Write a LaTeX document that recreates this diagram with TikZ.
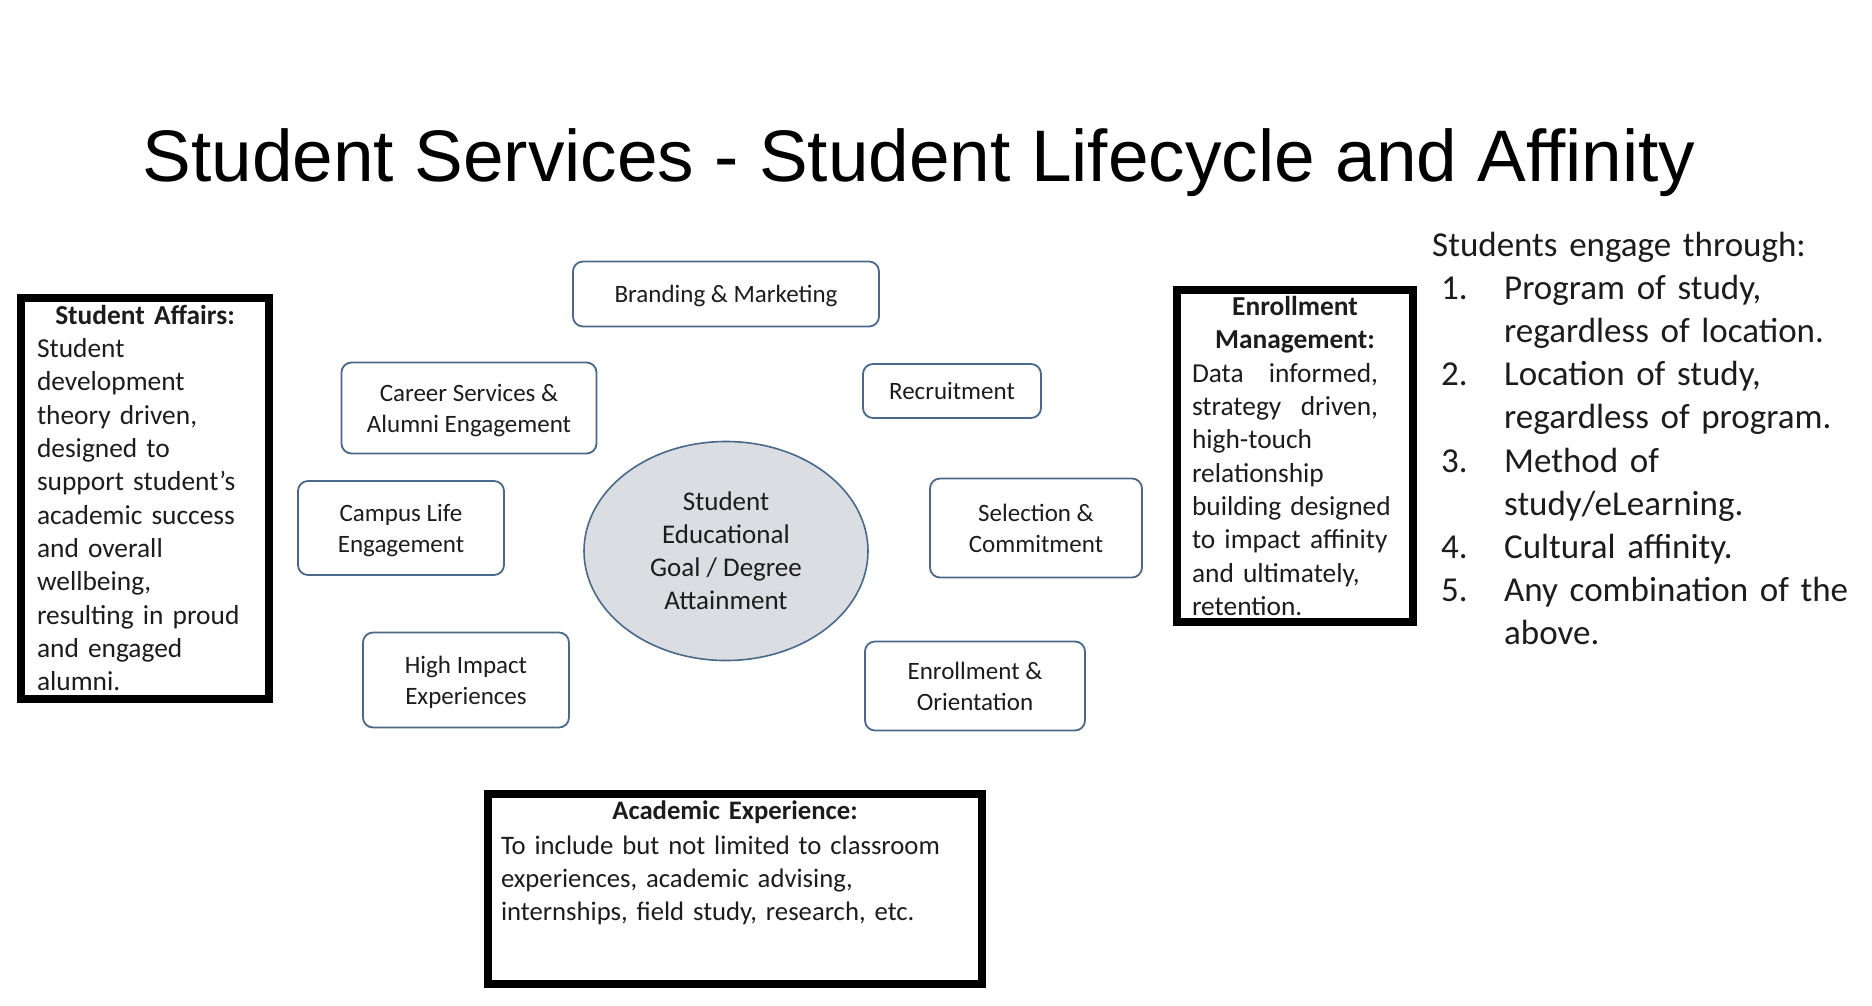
\documentclass[tikz,border=0pt]{standalone}
\usepackage{fontspec}
\setmainfont{Carlito}
\newfontfamily\headfont{Liberation Sans}
\usetikzlibrary{shapes.geometric}
\definecolor{stageline}{RGB}{74,104,136}
\definecolor{hubfill}{RGB}{218,221,225}
\definecolor{ink}{RGB}{28,28,28}
\tikzset{
    stage/.style={draw=stageline, line width=1.8pt, rounded corners=10pt, align=center,
        inner sep=0pt, text depth=0pt, text=ink, font=\fontsize{25}{31}\selectfont},
    hub/.style={ellipse, draw=stageline, line width=1.6pt, fill=hubfill, align=center,
        inner sep=0pt, text=ink, font=\fontsize{27}{33}\selectfont},
    panel/.style={draw=black, line width=8pt, inner sep=0pt, align=left, text=ink,
        font=\fontsize{27.4}{33.3}\selectfont},
    plain/.style={inner sep=0pt, align=left, text=ink},
}

\begin{document}
\begin{tikzpicture}[x=1pt, y=-1pt]

\useasboundingbox (0,0) rectangle (1872,1005);

\node[anchor=base, inner sep=0pt, font=\headfont\fontsize{73}{80}\selectfont] (title) at (919,181)
    {Student Services - Student Lifecycle and Affinity};

\node[hub, minimum width=284pt, minimum height=219pt] (goal) at (726,551)
    {Student\\Educational\\Goal / Degree\\Attainment};

\node[stage, minimum width=306pt, minimum height=65pt] (brand) at (726,294) {Branding \& Marketing};
\node[stage, minimum width=255pt, minimum height=91pt] (career) at (469,408) {Career Services \&\\Alumni Engagement};
\node[stage, minimum width=178pt, minimum height=54pt] (recruit) at (952,391) {Recruitment};
\node[stage, minimum width=206pt, minimum height=94pt] (campus) at (401,528) {Campus Life\\Engagement};
\node[stage, minimum width=212pt, minimum height=99pt] (select) at (1036,528) {Selection \&\\Commitment};
\node[stage, minimum width=206pt, minimum height=95pt] (impact) at (466,680) {High Impact\\Experiences};
\node[stage, minimum width=220pt, minimum height=89pt] (enrol) at (975,686) {Enrollment \&\\Orientation};

\node[panel, text width=216pt, minimum width=248pt, minimum height=401pt] (affairs) at (145,498)
    {\makebox[216pt]{\bfseries Student Affairs:}\\
    Student\\development\\theory driven,\\designed to\\support student’s\\academic success\\
    and overall\\wellbeing,\\resulting in proud\\and engaged\\alumni.};

\node[panel, text width=206pt, minimum width=236pt, minimum height=332pt] (enrolmgmt) at (1295,456)
    {\makebox[206pt]{\bfseries Enrollment}\\\makebox[206pt]{\bfseries Management:}\\
    \makebox[186pt][l]{Data\hfill informed,}\\\makebox[186pt][l]{strategy\hfill driven,}\\
    high-touch\\relationship\\building designed\\to impact affinity\\and ultimately,\\retention.};

\node[panel, minimum width=494pt, minimum height=190pt] (acad) at (735,889) {};
\node[plain, text width=468pt, anchor=base, font=\fontsize{26.7}{33}\selectfont] (acadtext) at (735,819)
    {\makebox[468pt]{\bfseries Academic Experience:}\\[2pt]
    To include but not limited to classroom\\experiences, academic advising,\\
    internships, field study, research, etc.};

\node[plain, text width=430pt, anchor=base west, font=\fontsize{35}{43.2}\selectfont] (engage) at (1432,256)
    {Students engage through:\\
    \hspace*{9pt}\makebox[63pt][l]{1.}Program of study,\\
    \hspace*{72pt}regardless of location.\\
    \hspace*{9pt}\makebox[63pt][l]{2.}Location of study,\\
    \hspace*{72pt}regardless of program.\\
    \hspace*{9pt}\makebox[63pt][l]{3.}Method of\\
    \hspace*{72pt}study/eLearning.\\
    \hspace*{9pt}\makebox[63pt][l]{4.}Cultural affinity.\\
    \hspace*{9pt}\makebox[63pt][l]{5.}Any combination of the\\
    \hspace*{72pt}above.};

\end{tikzpicture}
\end{document}
